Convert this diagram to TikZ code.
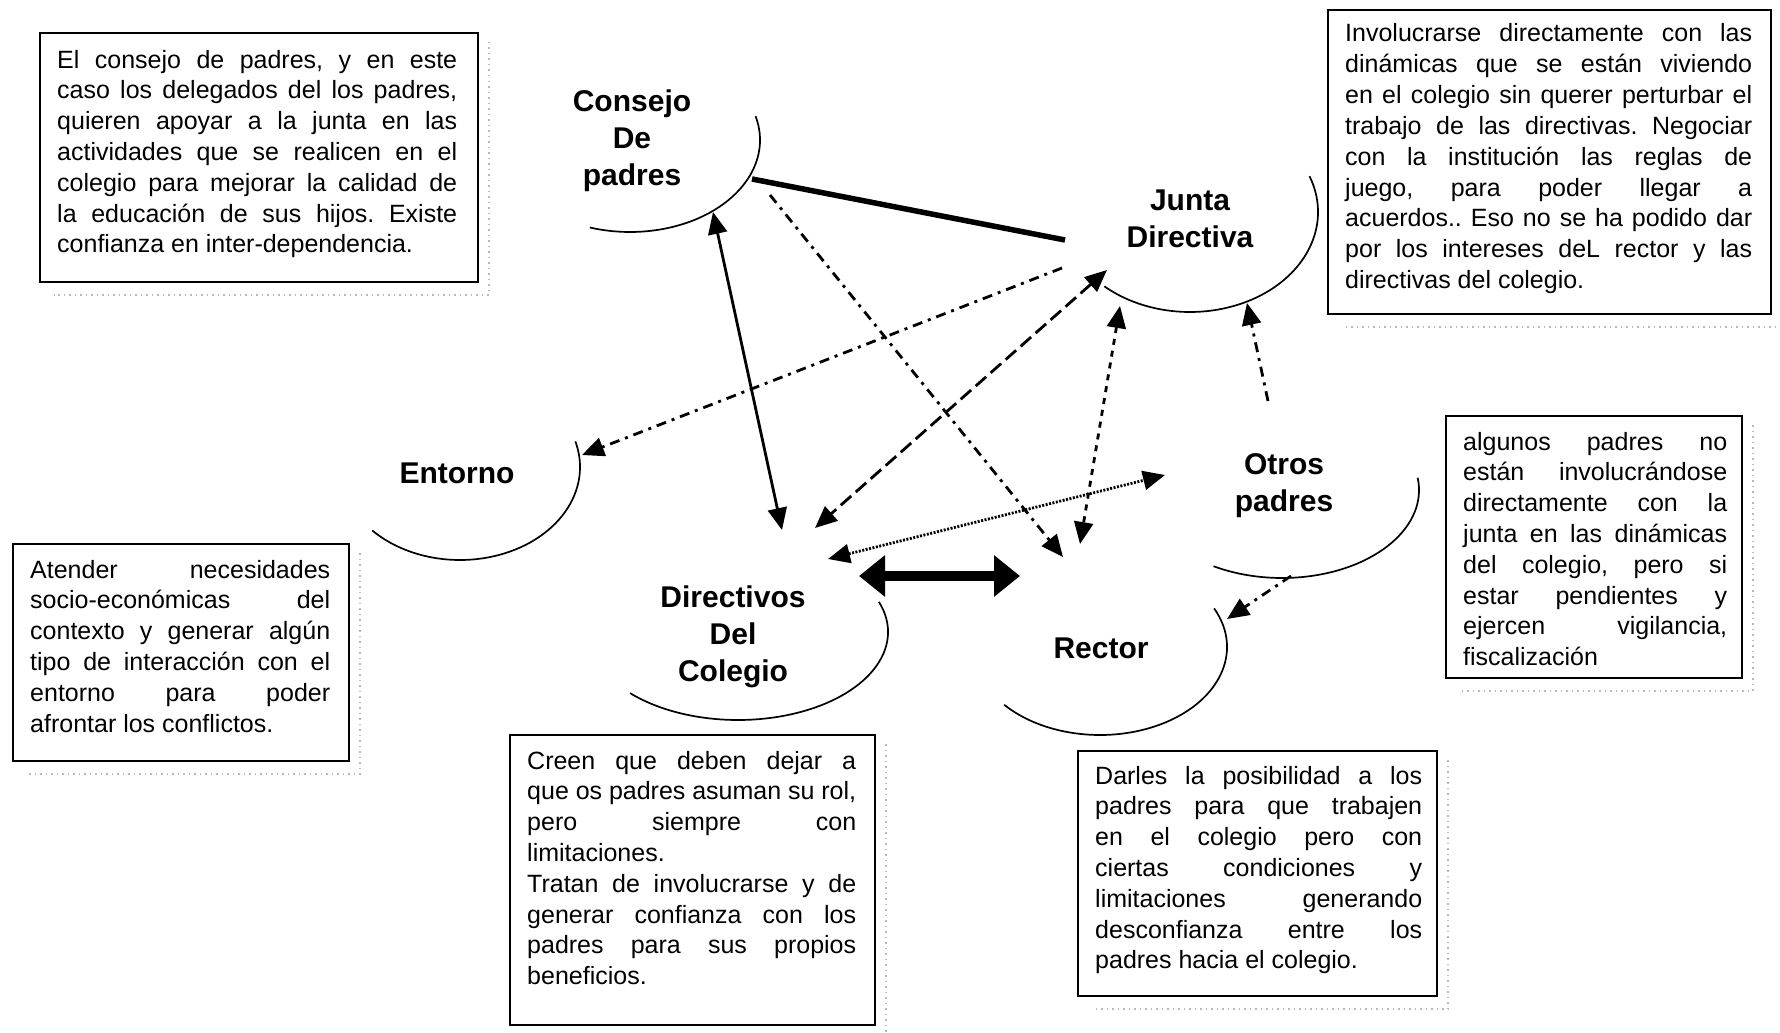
\documentclass[tikz,border=0pt]{standalone}
\usepackage{fontspec}
\setmainfont{Liberation Sans}
\usetikzlibrary{arrows.meta}
\newcommand\jl[1]{\hbox to \hsize{\spaceskip=0.278em plus 1fil minus 0.08em\relax #1}}
\newcommand\lastln[1]{\hbox{#1}}
\newcommand\lbls[1]{\vtop{\baselineskip=37pt\halign{\hfil##\hfil\cr#1\crcr}}}
\newcommand\boxtxt[2]{\vtop{\hsize=#1pt\fontsize{25}{30.8}\selectfont\frenchspacing\baselineskip=30.8pt #2}}
\tikzset{
  txtbox/.style={draw, line width=1.8pt, inner sep=0pt, anchor=north west},
  txt/.style={inner sep=0pt, anchor=base west},
  lbl/.style={inner sep=0pt, anchor=base, font=\fontsize{30}{37}\selectfont\bfseries},
  cloudarc/.style={line width=1.7pt},
  scanshadow/.style={draw=gray!55, line width=1.4pt, dash pattern=on 1.5pt off 4pt},
  conn/.style={line width=2.8pt},
  tipA/.style={-{Triangle[length=22pt,width=19pt]}},
  tipAB/.style={{Triangle[length=22pt,width=19pt]}-{Triangle[length=22pt,width=19pt]}},
  dashdot/.style={dash pattern=on 10pt off 6pt on 3pt off 6pt},
  longdash/.style={dash pattern=on 14pt off 6pt},
  shortdash/.style={dash pattern=on 6pt off 6pt},
  finedot/.style={dash pattern=on 2pt off 1.5pt},
}
\begin{document}
\begin{tikzpicture}[x=1pt,y=-1pt]
\useasboundingbox (0,0) rectangle (1780,1033);
\fill[white] (0,0) rectangle (1780,1033);

% ---------- text boxes ----------
\node[txtbox, minimum width=438pt, minimum height=249pt] (b1) at (39,32) {};
\node[txt] (t1) at (57,68) {\boxtxt{400}{%
\jl{El consejo de padres, y en este}%
\jl{caso los delegados del los padres,}%
\jl{quieren apoyar a la junta en las}%
\jl{actividades que se realicen en el}%
\jl{colegio para mejorar la calidad de}%
\jl{la educación de sus hijos. Existe}%
\lastln{confianza en inter-dependencia.}}};

\node[txtbox, minimum width=443pt, minimum height=304pt] (b2) at (1327,9) {};
\node[txt] (t2) at (1345,42) {\boxtxt{407}{%
\jl{Involucrarse directamente con las}%
\jl{dinámicas que se están viviendo}%
\jl{en el colegio sin querer perturbar el}%
\jl{trabajo de las directivas. Negociar}%
\jl{con la institución las reglas de}%
\jl{juego, para poder llegar a}%
\jl{acuerdos.. Eso no se ha podido dar}%
\jl{por los intereses deL rector y las}%
\lastln{directivas del colegio.}}};

\node[txtbox, minimum width=336pt, minimum height=217pt] (b3) at (12,543) {};
\node[txt] (t3) at (30,578) {\boxtxt{300}{%
\jl{Atender necesidades}%
\jl{socio-económicas del}%
\jl{contexto y generar algún}%
\jl{tipo de interacción con el}%
\jl{entorno para poder}%
\lastln{afrontar los conflictos.}}};

\node[txtbox, minimum width=296pt, minimum height=262pt] (b4) at (1445,415) {};
\node[txt] (t4) at (1463,450) {\boxtxt{264}{%
\jl{algunos padres no}%
\jl{están involucrándose}%
\jl{directamente con la}%
\jl{junta en las dinámicas}%
\jl{del colegio, pero si}%
\jl{estar pendientes y}%
\jl{ejercen vigilancia,}%
\lastln{fiscalización}}};

\node[txtbox, minimum width=365pt, minimum height=290pt] (b5) at (509,734) {};
\node[txt] (t5) at (527,769) {\boxtxt{329}{%
\jl{Creen que deben dejar a}%
\jl{que os padres asuman su rol,}%
\jl{pero siempre con}%
\lastln{limitaciones.}%
\jl{Tratan de involucrarse y de}%
\jl{generar confianza con los}%
\jl{padres para sus propios}%
\lastln{beneficios.}}};

\node[txtbox, minimum width=359pt, minimum height=245pt] (b6) at (1077,750) {};
\node[txt] (t6) at (1095,784) {\boxtxt{327}{%
\jl{Darles la posibilidad a los}%
\jl{padres para que trabajen}%
\jl{en el colegio pero con}%
\jl{ciertas condiciones y}%
\jl{limitaciones generando}%
\jl{desconfianza entre los}%
\lastln{padres hacia el colegio.}}};

% scan shadows
\foreach \b in {b1,b2,b3,b4,b5,b6}{
  \draw[scanshadow] ([xshift=10pt,yshift=-10pt]\b.north east) -- ([xshift=10pt,yshift=-12pt]\b.south east)
     -- ([xshift=15pt,yshift=-12pt]\b.south west);
}

% ---------- labels ----------
\node[lbl] (consejo) at (632,111) {\lbls{Consejo\cr De\cr padres}};
\node[lbl] (junta) at (1190,210) {\lbls{Junta\cr Directiva}};
\node[lbl] (entorno) at (457,483) {\lbls{Entorno}};
\node[lbl] (directivos) at (733,607) {\lbls{Directivos\cr Del\cr Colegio}};
\node[lbl] (rector) at (1101,658) {\lbls{Rector}};
\node[lbl] (otros) at (1284,474) {\lbls{Otros\cr padres}};

% ---------- cloud arcs ----------
\draw[cloudarc] (630,140) ++(15:130pt and 92pt) arc[start angle=15,end angle=-108,x radius=130pt,y radius=92pt];
\draw[cloudarc] (1190,212) ++(21:128pt and 100pt) arc[start angle=21,end angle=-132,x radius=128pt,y radius=100pt];
\draw[cloudarc] (460,467) ++(16:120pt and 93pt) arc[start angle=16,end angle=-137,x radius=120pt,y radius=93pt];
\draw[cloudarc] (738,632) ++(20:150pt and 88pt) arc[start angle=20,end angle=-136,x radius=150pt,y radius=88pt];
\draw[cloudarc] (1100,647) ++(26:127pt and 88pt) arc[start angle=26,end angle=-139,x radius=127pt,y radius=88pt];
\draw[cloudarc] (1282,490) ++(8:137pt and 88pt) arc[start angle=8,end angle=-120,x radius=137pt,y radius=88pt];

% ---------- connector end points ----------
\coordinate (cjA) at (752,179);  \coordinate (jcA) at (1065,240);
\coordinate (cdA) at (713,212);  \coordinate (dcA) at (782,530);
\coordinate (crA) at (770,195);  \coordinate (rcA) at (1063,557);
\coordinate (jeA) at (1062,268); \coordinate (ejA) at (582,455);
\coordinate (jdA) at (1107,270); \coordinate (djA) at (815,528);
\coordinate (jrA) at (1120,306); \coordinate (rjA) at (1080,544);
\coordinate (ojA) at (1268,401); \coordinate (joA) at (1247,303);
\coordinate (doA) at (828,559);  \coordinate (odA) at (1165,475);
\coordinate (drA) at (859,576);  \coordinate (rdA) at (1020,576);
\coordinate (orA) at (1291,576); \coordinate (roA) at (1227,619);

% ---------- connectors ----------
\draw[line width=5.5pt] (cjA) -- (jcA);
\draw[conn, tipAB] (cdA) -- (dcA);
\draw[conn, dashdot, tipA] (crA) -- (rcA);
\draw[conn, dashdot, tipA] (jeA) -- (ejA);
\draw[conn, longdash, tipAB] (jdA) -- (djA);
\draw[conn, shortdash, tipAB] (jrA) -- (rjA);
\draw[conn, dashdot, tipA] (ojA) -- (joA);
\draw[conn, finedot, tipAB] (doA) -- (odA);
\draw[line width=10pt, {Triangle[length=26pt,width=40pt]}-{Triangle[length=26pt,width=40pt]}] (drA) -- (rdA);
\draw[conn, dashdot, tipA] (orA) -- (roA);
\end{tikzpicture}
\end{document}
